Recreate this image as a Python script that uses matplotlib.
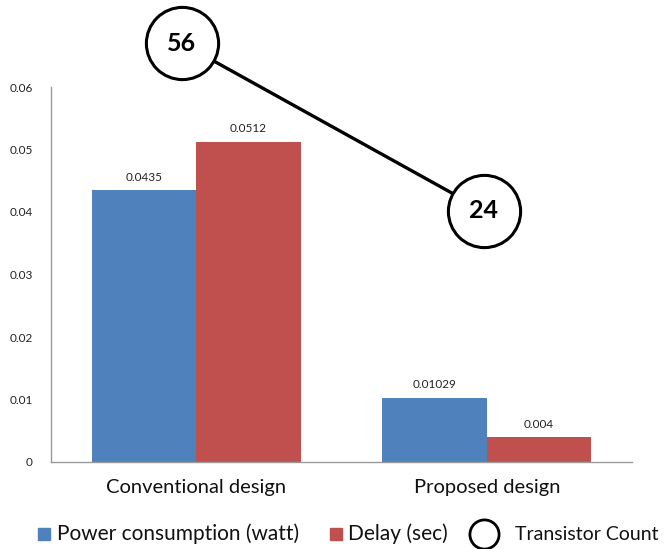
import matplotlib
matplotlib.use("Agg")
import matplotlib.pyplot as plt
from matplotlib.lines import Line2D
import numpy as np

plt.rcParams['font.family'] = ['Lato', 'DejaVu Sans']

categories = ["Conventional design", "Proposed design"]
power = [0.0435, 0.01029]
delay = [0.0512, 0.004]
power_labels = ["0.0435", "0.01029"]
delay_labels = ["0.0512", "0.004"]
transistor_count = [56, 24]
yticks = [0, 0.01, 0.02, 0.03, 0.04, 0.05, 0.06]
ytick_labels = ["0", "0.01", "0.02", "0.03", "0.04", "0.05", "0.06"]
legend_labels = ["Power consumption (watt)", "Delay (sec)", "Transistor Count"]

blue = "#4F81BD"
red = "#C0504D"

W, H = 665, 549
fig = plt.figure(figsize=(W/100, H/100), dpi=100)
ax = fig.add_axes([51/W, 87/H, 581/W, 375/H])

x = np.arange(len(categories))
w = 0.36
b1 = ax.bar(x - w/2, power, w, color=blue, zorder=2)
b2 = ax.bar(x + w/2, delay, w, color=red, zorder=2)
for rect, lab in zip(b1, power_labels):
    ax.text(rect.get_x() + rect.get_width()/2, rect.get_height() + 0.0012, lab,
            ha='center', va='bottom', fontsize=8.5, color='#222222')
for rect, lab in zip(b2, delay_labels):
    ax.text(rect.get_x() + rect.get_width()/2, rect.get_height() + 0.0012, lab,
            ha='center', va='bottom', fontsize=8.5, color='#222222')

ax.set_xlim(-0.5, 1.5)
ax.set_ylim(0, 0.06)
ax.set_yticks(yticks)
ax.set_yticklabels(ytick_labels, fontsize=8.5, color='#222222')
ax.set_xticks(x)
ax.set_xticklabels(categories, fontsize=14.5, color='#111111')
ax.tick_params(axis='both', length=0)
ax.tick_params(axis='y', pad=13)
ax.tick_params(axis='x', pad=12)
for s in ['top', 'right']:
    ax.spines[s].set_visible(False)
for s in ['left', 'bottom']:
    ax.spines[s].set_color('#9a9a9a')
    ax.spines[s].set_linewidth(1.0)

# Transistor count circles (annotation overlay)
cx = [-0.05, 0.99]
cy = [0.0670, 0.0402]
ax.plot(cx, cy, color='black', lw=2.4, zorder=5, clip_on=False)
ax.plot(cx, cy, 'o', markersize=52, markerfacecolor='white', markeredgecolor='black',
        markeredgewidth=2.2, zorder=6, clip_on=False, linestyle='none')
for xi, yi, t in zip(cx, cy, transistor_count):
    ax.text(xi, yi, str(t), ha='center', va='center', fontsize=18, fontweight='bold',
            zorder=7, clip_on=False)

# Legend (manual placement, figure coords)
ly = 1 - 534/H
fig.add_artist(Line2D([44/W], [ly], marker='s', color=blue, markersize=9,
                      transform=fig.transFigure))
fig.add_artist(Line2D([336/W], [ly], marker='s', color=red, markersize=9,
                      transform=fig.transFigure))
fig.add_artist(Line2D([484/W], [ly], marker='o', markerfacecolor='white',
                      markeredgecolor='black', markeredgewidth=2.0, markersize=21,
                      transform=fig.transFigure))
for tx, lab, fs in zip([57, 348, 515], legend_labels, [15, 15, 14]):
    fig.text(tx/W, ly, lab, ha='left', va='center', fontsize=fs, color='#111111')

fig.savefig("out.png", dpi=100)
